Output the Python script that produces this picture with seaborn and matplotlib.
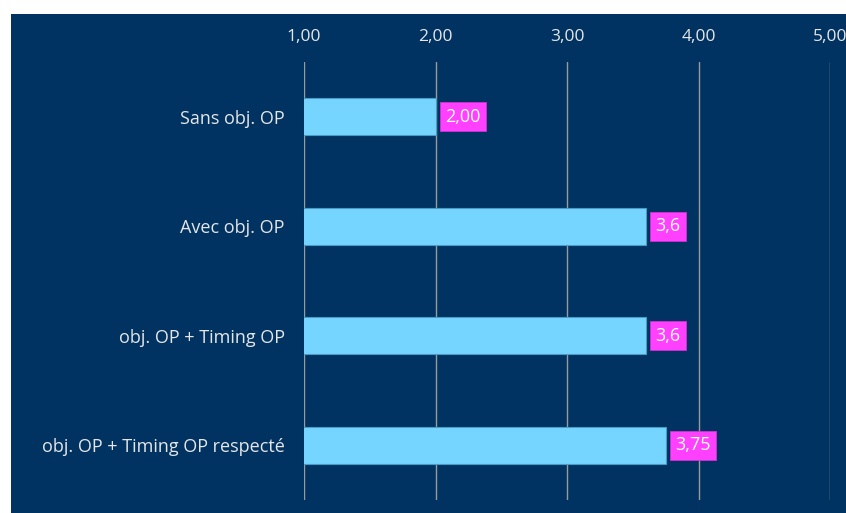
import matplotlib
matplotlib.use("Agg")
import matplotlib.pyplot as plt
import seaborn as sns
import pandas as pd
from matplotlib.patches import Rectangle

categories = ["Sans obj. OP", "Avec obj. OP", "obj. OP + Timing OP", "obj. OP + Timing OP respecté"]
values = [2.00, 3.6, 3.6, 3.75]
value_labels = ["2,00", "3,6", "3,6", "3,75"]
tick_values = [1, 2, 3, 4, 5]
tick_labels = ["1,00", "2,00", "3,00", "4,00", "5,00"]

sns.set_style("white")
plt.rcParams['font.family'] = ['Open Sans', 'DejaVu Sans']

navy = "#003361"
text_col = "#E6E6E6"

fig = plt.figure(figsize=(8.46, 5.13), dpi=100, facecolor="white")
fig.patches.append(Rectangle((11/846, 0), 1, 1 - 14/513, transform=fig.transFigure,
                             facecolor=navy, edgecolor="none", zorder=-10))
ax = fig.add_axes([304/846, 1 - 500/513, (830 - 304)/846, (500 - 62)/513])
ax.set_facecolor("none")

df = pd.DataFrame({"cat": categories, "val": values})
sns.barplot(data=df, x="val", y="cat", orient="h", ax=ax, color="#76D5FF",
            width=0.34, edgecolor="#4A9CC4", linewidth=0.8, saturation=1, zorder=3)

ax.set_xlim(1, 5)
ax.set_ylim(3.5, -0.5)
ax.set_xticks(tick_values)
ax.set_xticklabels(tick_labels)
ax.xaxis.tick_top()
ax.tick_params(axis="x", length=0, pad=12, labelsize=12.5, colors=text_col)
ax.tick_params(axis="y", length=0, pad=14, labelsize=13, colors=text_col)
ax.set_xlabel("")
ax.set_ylabel("")
ax.grid(axis="x", color="#9A9A9A", linewidth=1, zorder=0)
ax.set_axisbelow(True)
for s in ax.spines.values():
    s.set_visible(False)

for i, (v, lab) in enumerate(zip(values, value_labels)):
    ax.annotate(lab, xy=(v, i), xytext=(7, 0), textcoords="offset points",
                ha="left", va="center", color="white", fontsize=13,
                bbox=dict(boxstyle="square,pad=0.3", facecolor="#FF40FF",
                          edgecolor="#D030D0", linewidth=0.6), zorder=5)

fig.savefig("out.png", dpi=100, facecolor="white")
